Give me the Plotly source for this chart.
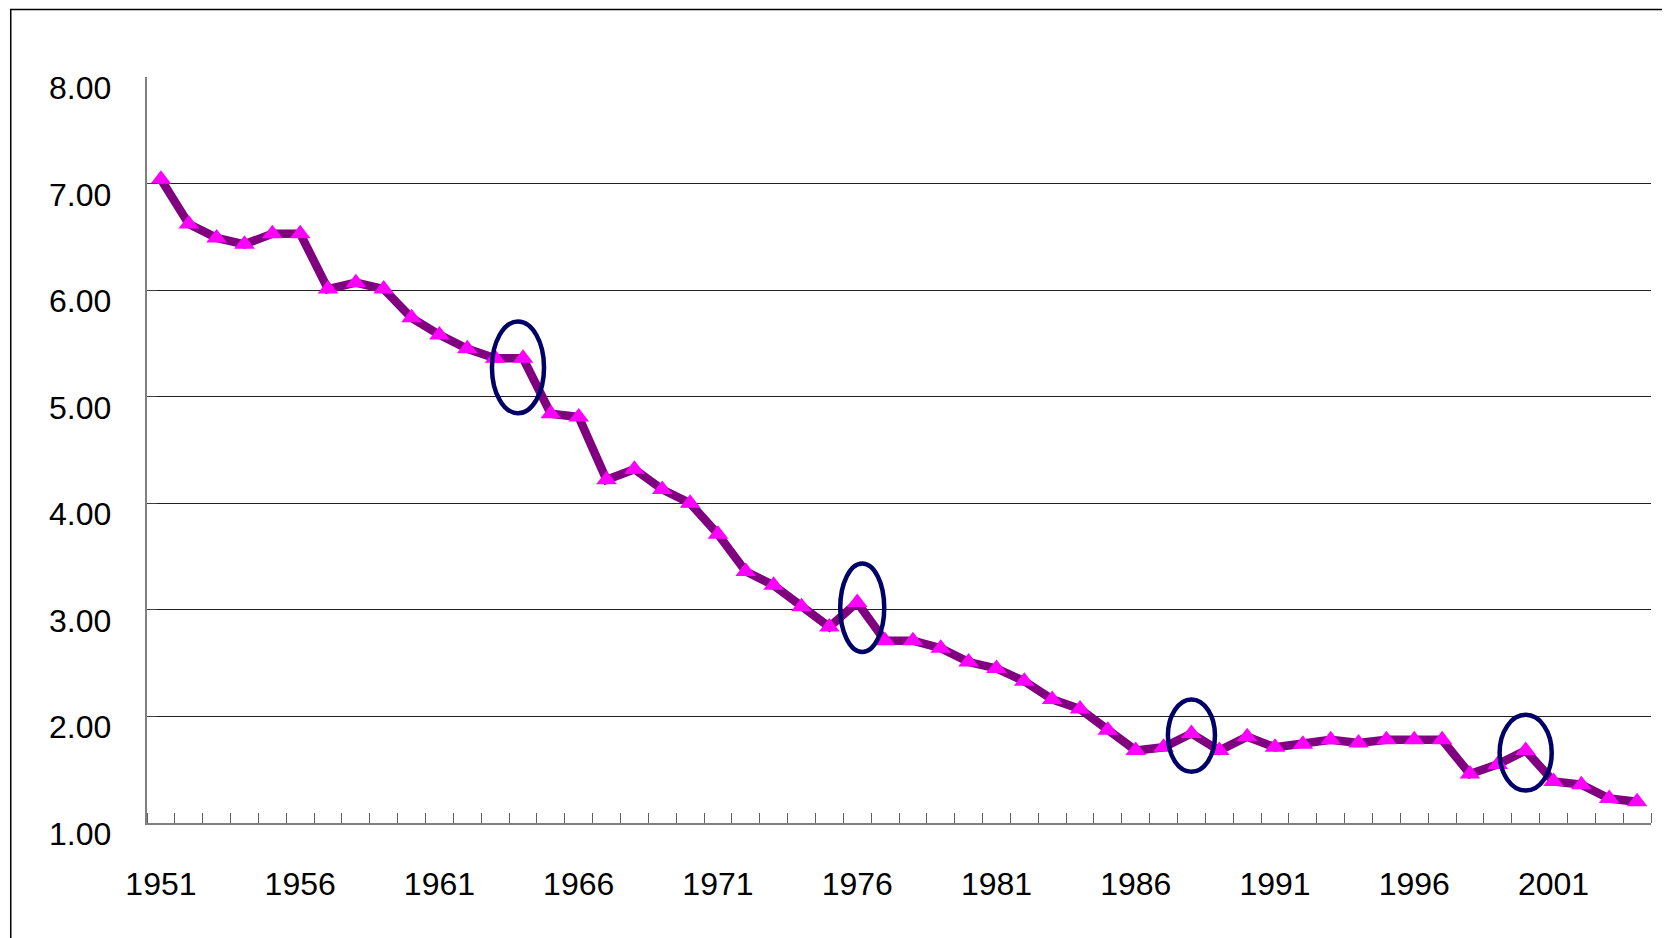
import plotly.graph_objects as go

# 数据：1951-2004 年
years = list(range(1951, 2005))
values = [7.04, 6.62, 6.49, 6.43, 6.53, 6.53, 6.01, 6.07, 6.01, 5.74,
          5.58, 5.45, 5.36, 5.36, 4.84, 4.81, 4.22, 4.32, 4.13, 4.00,
          3.71, 3.36, 3.23, 3.03, 2.84, 3.07, 2.71, 2.71, 2.64, 2.51,
          2.45, 2.33, 2.16, 2.07, 1.87, 1.68, 1.71, 1.84, 1.68, 1.81,
          1.71, 1.74, 1.78, 1.75, 1.78, 1.78, 1.78, 1.46, 1.55, 1.68,
          1.39, 1.36, 1.23, 1.20]
x_label_years = years[::5]
y_ticks = [1.0, 2.0, 3.0, 4.0, 5.0, 6.0, 7.0, 8.0]

# 圈出的年份
circled_years = [1964, 1976, 1988, 2000]

FONT = "Liberation Sans, Arial, sans-serif"

fig = go.Figure()
fig.add_trace(go.Scatter(
    x=years, y=values, mode="lines+markers",
    line=dict(color="#800080", width=8.5),
    marker=dict(symbol="triangle-up", size=18, color="#FF00FF",
                line=dict(width=0)),
    showlegend=False, hoverinfo="x+y",
))

# 椭圆标注（宽度单位：年；高度单位：数值）
ell_w = [1.87, 1.58, 1.69, 1.87]
ell_h = [0.86, 0.83, 0.68, 0.71]
ell_dx = [-0.18, 0.18, 0.0, 0.0]
ell_dy = [-0.085, -0.05, -0.02, -0.02]
for yr, w, h, dx, dy in zip(circled_years, ell_w, ell_h, ell_dx, ell_dy):
    v = values[years.index(yr)]
    cx, cy = yr + dx, v + dy
    fig.add_shape(type="circle", xref="x", yref="y",
                  x0=cx - w / 2, x1=cx + w / 2, y0=cy - h / 2, y1=cy + h / 2,
                  line=dict(color="#000066", width=4.5))

# 外框（左、上边）
fig.add_shape(type="rect", xref="paper", yref="paper",
              x0=-0.0906, x1=1.03, y0=-0.2, y1=1.0905,
              line=dict(color="black", width=1.5), layer="below")

# y 轴刻度文字（略向下偏移）
for v in y_ticks:
    fig.add_annotation(x=0, xref="paper", y=v, yref="y",
                       text=f"{v:.2f}", showarrow=False,
                       xanchor="right", xshift=-34, yshift=-11,
                       font=dict(family=FONT, size=32, color="black"))

fig.update_layout(
    width=1662, height=930,
    margin=dict(l=139, r=19, t=69, b=115),
    paper_bgcolor="white", plot_bgcolor="white",
    font=dict(family=FONT, size=32, color="black"),
    xaxis=dict(
        range=[years[0] - 0.5, years[-1] + 0.5],
        tickvals=x_label_years, ticktext=[str(y) for y in x_label_years],
        ticks="", showgrid=False, zeroline=False,
        showline=True, linecolor="#808080", linewidth=1.5,
        ticklabelstandoff=32,
        minor=dict(tick0=years[0] - 0.5, dtick=1, ticks="inside",
                   ticklen=10, tickcolor="#606060", tickwidth=1, showgrid=False),
    ),
    yaxis=dict(
        range=[y_ticks[0], y_ticks[-1]],
        tickvals=y_ticks, showticklabels=False,
        ticks="inside", ticklen=10, tickcolor="#404040",
        showgrid=False, zeroline=False,
        showline=True, linecolor="#808080", linewidth=1.5,
        minor=dict(tickvals=y_ticks[1:-1], showgrid=True,
                   gridcolor="#202020", gridwidth=1, ticks=""),
    ),
)

fig.write_html("out.html")
